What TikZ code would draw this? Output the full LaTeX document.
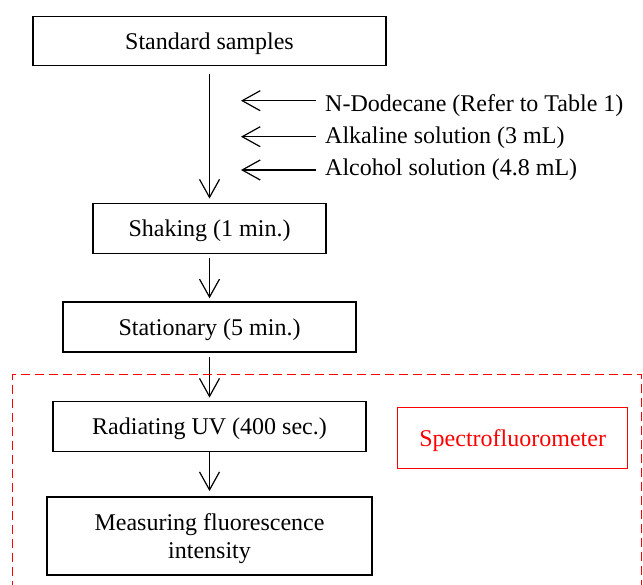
\documentclass[tikz,border=0pt]{standalone}
\usepackage{fontspec}
\setmainfont{Liberation Serif}
\usetikzlibrary{arrows.meta}

\begin{document}
\begin{tikzpicture}[x=1pt,y=-1pt,
  font=\fontsize{24}{28}\selectfont,
  box/.style={draw,line width=1.4pt,minimum height=50pt,inner sep=2pt,align=center,text depth=0pt},
  arr/.style={-{Straight Barb[length=18pt,width=20pt]},line width=1.2pt,shorten <=4pt,shorten >=3pt},
  inlabel/.style={anchor=west,inner xsep=9pt,inner ysep=2pt}]
\useasboundingbox (0,0) rectangle (643,585);

% Draw process steps
\node[box,minimum width=353pt,minimum height=49pt] (std) at (209.5,41.2) {Standard samples};
\node[box,minimum width=233pt] (shake) at (209.5,228.3) {Shaking (1 min.)};
\node[box,minimum width=293pt] (stat) at (209.5,327) {Stationary (5 min.)};
\node[box,minimum width=313pt] (rad) at (209.5,426.3) {Radiating UV (400 sec.)};
\node[box,minimum width=325pt,minimum height=78pt] (meas) at (209.5,535.8) {Measuring fluorescence\\intensity};

% Draw added reagents
\node[inlabel] (dod) at (316,106) {N-Dodecane (Refer to Table 1)};
\node[inlabel] (alk) at (316,138) {Alkaline solution (3 mL)};
\node[inlabel] (alc) at (316,170) {Alcohol solution (4.8 mL)};
\coordinate (in1) at (241,100.7);
\coordinate (in2) at (241,136.7);
\coordinate (in3) at (241,170);
\draw[arr,shorten <=0pt,shorten >=0pt] (dod.west |- in1) -- (in1);
\draw[arr,shorten <=0pt,shorten >=0pt] (alk.west |- in2) -- (in2);
\draw[arr,shorten <=0pt,shorten >=0pt] (alc.west |- in3) -- (in3);

% Draw flow arrows
\draw[arr,shorten <=8pt,shorten >=4pt] (std.south) -- (shake.north);
\draw[arr] (shake.south) -- (stat.north);
\draw[arr] (stat.south) -- (rad.north);
\draw[arr,shorten <=0pt,shorten >=5pt] (rad.south) -- (meas.north);

% Draw instrument
\draw[red,line width=1.4pt,dash pattern=on 9pt off 5pt] (12.5,590) |- (641.5,374.5) -- (641.5,590);
\node[box,draw=red,text=red,minimum width=230pt,minimum height=61pt] (spec) at (512.7,438) {Spectrofluorometer};
\end{tikzpicture}
\end{document}
